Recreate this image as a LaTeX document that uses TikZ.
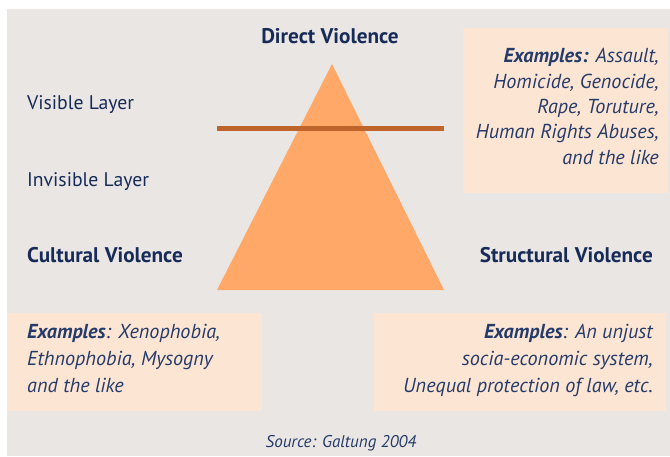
\documentclass[tikz,border=0pt]{standalone}
\usepackage{fontspec}
\setmainfont{PT Sans}
\definecolor{bgc}{HTML}{EAE6E3}
\definecolor{boxc}{HTML}{FDE5D4}
\definecolor{tric}{HTML}{FFA868}
\definecolor{linec}{HTML}{BF652B}
\definecolor{navy}{HTML}{172B59}
\definecolor{itc}{HTML}{253B69}
\begin{document}
\begin{tikzpicture}[x=1pt,y=-1pt,
  head/.style={inner sep=0pt,text=navy,font=\fontsize{21.2}{24}\selectfont\bfseries},
  layer/.style={inner sep=0pt,text=navy,font=\fontsize{19.7}{23}\selectfont},
  ex/.style={inner sep=0pt,text=itc,font=\fontsize{20.2}{24}\selectfont\itshape},
  src/.style={inner sep=0pt,text=itc,font=\fontsize{17}{20}\selectfont\itshape},
  exbox/.style={fill=boxc,draw=none}]
\useasboundingbox (0,0) rectangle (670,456);
\fill[white] (0,0) rectangle (670,456);
\fill[bgc] (7,9) rectangle (670,456);
% boxes
\fill[exbox] (463,28) rectangle (668,193);
\fill[exbox] (7,313) rectangle (262,411);
\fill[exbox] (374,313) rectangle (666,411);
% triangle and line
\coordinate (apex) at (332,64);
\coordinate (bl) at (217,290);
\coordinate (br) at (444,290);
\fill[tric] (apex) -- (bl) -- (br) -- cycle;
\coordinate (ll) at (217,128);
\coordinate (lr) at (444,128);
\draw[linec,line width=5pt] (ll) -- (lr);
% headings
\node[head,anchor=base] (dv) at (330,43) {Direct Violence};
\node[head,anchor=base west] (cv) at (27,262) {Cultural Violence};
\node[head,anchor=base east] (sv) at (653,262) {Structural Violence};
\node[layer,anchor=base west] (vl) at (27,109) {Visible Layer};
\node[layer,anchor=base west] (il) at (27,186) {Invisible Layer};
% top-right examples
\node[ex,anchor=base east] (t1) at (659,62) {\textbf{Examples:} Assault,};
\node[ex,anchor=base east] (t2) at (659,88) {Homicide, Genocide,};
\node[ex,anchor=base east] (t3) at (659,113) {Rape, Toruture,};
\node[ex,anchor=base east] (t4) at (659,138) {Human Rights Abuses,};
\node[ex,anchor=base east] (t5) at (659,164) {and the like};
% bottom-left examples
\node[ex,anchor=base west] (l1) at (27,338) {\textbf{Examples}: Xenophobia,};
\node[ex,anchor=base west] (l2) at (27,365) {Ethnophobia, Mysogny};
\node[ex,anchor=base west] (l3) at (27,392) {and the like};
% bottom-right examples
\node[ex,anchor=base east] (r1) at (653,338) {\textbf{Examples}: An unjust};
\node[ex,anchor=base east] (r2) at (653,365) {socia-economic system,};
\node[ex,anchor=base east] (r3) at (653,392) {Unequal protection of law, etc.};
% source
\node[src,anchor=base] (so) at (341,447) {Source: Galtung 2004};
\end{tikzpicture}
\end{document}
